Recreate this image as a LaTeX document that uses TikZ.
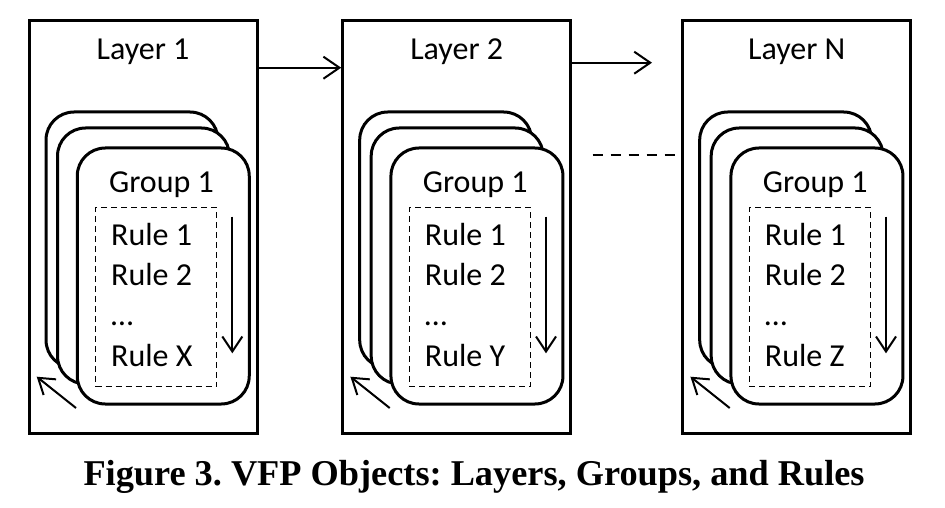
\documentclass[tikz,border=0pt]{standalone}
\usepackage{fontspec}
\setmainfont{Carlito}
\newfontfamily\capfont{Liberation Serif}
\usetikzlibrary{arrows.meta}
\frenchspacing
\tikzset{
 layerbox/.style={draw, line width=3pt, minimum width=228pt, minimum height=412pt, inner sep=0pt, fill=white},
 grp/.style={draw, line width=3pt, rounded corners=28pt, minimum width=172pt, minimum height=256pt, inner sep=0pt, fill=white},
 rulebox/.style={draw, line width=1.5pt, dash pattern=on 6pt off 4pt, minimum width=121pt, minimum height=179.4pt, inner sep=0pt},
 lbl/.style={inner sep=0pt, font=\fontsize{32}{38}\selectfont},
 arr/.style={line width=2pt, -{Straight Barb[length=16pt,width=22pt]}},
 smallarr/.style={line width=2pt, -{Straight Barb[length=15pt,width=20pt]}},
}
\newcommand\drawlayer[4]{%
\begin{scope}[xshift=#1pt]
 \node[layerbox] (#2) at (143,227) {};
 \node[lbl, anchor=base] (#2t) at (143,59.3) {#3};
 \node[grp] (#2g3) at (132,240) {};
 \node[grp] (#2g2) at (143.5,256) {};
 \node[grp] (#2g1) at (163.25,276) {};
 \node[lbl, anchor=base] (#2gt) at (161.5,193) {Group 1};
 \node[rulebox] (#2rb) at (156.2,297) {};
 \node[lbl, anchor=base west] (#2r1) at (111,245) {Rule 1};
 \node[lbl, anchor=base west] (#2r2) at (111,285) {Rule 2};
 \node[lbl, anchor=base west] (#2r3) at (111,325) {\dots};
 \node[lbl, anchor=base west] (#2r4) at (111,366.7) {#4};
 \coordinate (#2da) at (232.3,216.7);
 \coordinate (#2db) at (232.3,353.3);
 \draw[smallarr] (#2da) -- (#2db);
 \coordinate (#2ca) at (76,408);
 \coordinate (#2cb) at (36.7,376.7);
 \draw[smallarr] (#2ca) -- (#2cb);
\end{scope}}
\begin{document}
\begin{tikzpicture}[x=1pt,y=-1pt]
\useasboundingbox (0,0) rectangle (945,508);
\drawlayer{0}{La}{Layer 1}{Rule X}
\drawlayer{313.7}{Lb}{Layer 2}{Rule Y}
\drawlayer{653.7}{Lc}{Layer N}{Rule Z}
\draw[arr] (La.east |- 0,67.7) -- (Lb.west |- 0,67.7);
\coordinate (a2end) at (652,62.7);
\draw[arr] (Lb.east |- a2end) -- (a2end);
\coordinate (d1) at (592.7,155.3);
\coordinate (d2) at (675,155.3);
\draw[line width=2pt, dash pattern=on 10pt off 8pt] (d1) -- (d2);
\node[anchor=base west, inner sep=0pt, font=\capfont\bfseries\fontsize{36.3}{42}\selectfont] (cap) at (83.3,485) {Figure 3. VFP Objects: Layers, Groups, and Rules};
\end{tikzpicture}
\end{document}
